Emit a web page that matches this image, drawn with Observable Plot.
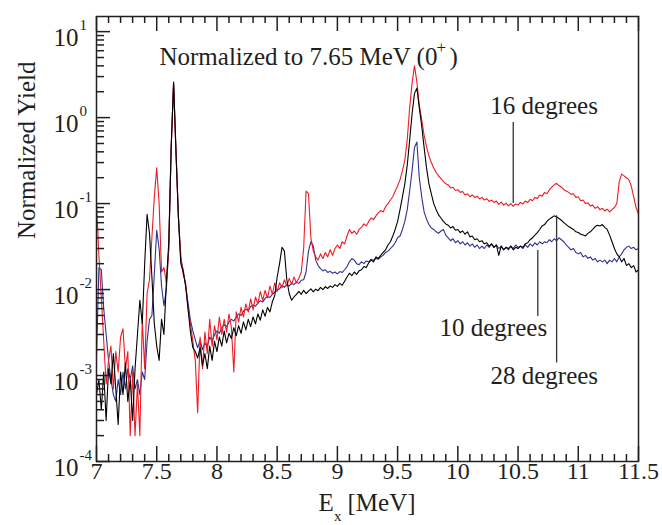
<!DOCTYPE html>
<html><head><meta charset="utf-8">
<script src="https://cdn.jsdelivr.net/npm/d3@7"></script>
<script src="https://cdn.jsdelivr.net/npm/@observablehq/plot@0.6"></script>
<style>
html,body{margin:0;padding:0;background:#fff;}
#chart{width:662px;height:525px;}
</style>
</head><body><div id="chart"></div>
<script>
// Excitation energy grid: 7.00 .. 11.50 MeV in 0.02 MeV bins
const energyStart = 7.0, energyStep = 0.02;

// 16 degrees (red)
const yield16 = [
  0.1, 0.025, 0.008, 0.0025, 0.0008, 0.0015, 0.0022, 0.0007, 0.0019, 0.0011, 0.0028, 0.0035, 0.0012, 0.0019, 0.0002, 0.0011,
  0.0002, 0.0008, 0.0002, 0.0045, 0.0012, 0.009, 0.013, 0.04, 0.12, 0.26, 0.1, 0.016, 0.018, 0.012, 0.03, 0.45, 2.5, 0.4, 0.07, 0.025, 0.015, 0.012, 0.006, 0.004, 0.0025, 0.0015, 0.00037, 0.0028, 0.0012, 0.0032,
  0.0018, 0.0045, 0.0022, 0.0038, 0.0026, 0.0048, 0.003, 0.0045, 0.0032, 0.0052, 0.0036, 0.0011, 0.0055, 0.0042, 0.0062, 0.0048, 0.0068, 0.0055, 0.0078, 0.0058, 0.0082, 0.0068, 0.0095, 0.0075, 0.0098, 0.008, 0.011, 0.0088, 0.012, 0.0095,
  0.012, 0.0105, 0.013, 0.011, 0.0135, 0.0115, 0.014, 0.012, 0.0135, 0.016,
  0.03, 0.14, 0.13, 0.04, 0.028, 0.024, 0.022, 0.026, 0.023, 0.027,
  0.024, 0.029, 0.025, 0.03, 0.033, 0.03, 0.036, 0.034, 0.042, 0.05,
  0.045, 0.048, 0.044, 0.05, 0.053, 0.058, 0.055, 0.062, 0.068, 0.065,
  0.072, 0.078, 0.083, 0.08, 0.092, 0.1, 0.11, 0.12, 0.14, 0.16,
  0.19, 0.24, 0.32, 0.55, 1.3, 2.5, 4.0, 2.6, 1.4, 0.95, 0.62, 0.46, 0.36, 0.3, 0.26, 0.23, 0.21, 0.195, 0.18, 0.17,
  0.165, 0.152, 0.155, 0.142, 0.145, 0.135, 0.138, 0.126, 0.13, 0.12,
  0.126, 0.118, 0.122, 0.113, 0.118, 0.11, 0.114, 0.106, 0.11, 0.103,
  0.107, 0.098, 0.104, 0.096, 0.101, 0.094, 0.1, 0.093, 0.099, 0.096,
  0.103, 0.099, 0.107, 0.103, 0.112, 0.108, 0.118, 0.115, 0.126, 0.122,
  0.135, 0.13, 0.145, 0.155, 0.165, 0.172, 0.162, 0.155, 0.145, 0.14,
  0.135, 0.128, 0.13, 0.118, 0.12, 0.108, 0.11, 0.1, 0.102, 0.094,
  0.096, 0.088, 0.092, 0.085, 0.088, 0.082, 0.086, 0.08, 0.085, 0.09,
  0.1, 0.18, 0.22, 0.21, 0.2, 0.19, 0.16, 0.12, 0.09, 0.075
];

// 28 degrees (black)
const yield28 = [
  0.0006, 0.0009, 0.0004, 0.0011, 0.0003, 0.0012, 0.0008, 0.0018, 0.0007, 0.00027, 0.0011, 0.0006, 0.0014, 0.0005, 0.0009, 0.0003,
  0.0012, 0.003, 0.0075, 0.004, 0.02, 0.075, 0.045, 0.014, 0.004, 0.0022, 0.0015, 0.0045, 0.003, 0.012, 0.035, 0.45, 2.6, 0.4, 0.07, 0.02, 0.016, 0.011, 0.006, 0.0032, 0.0021, 0.0019, 0.0016, 0.0021, 0.0013, 0.0018,
  0.0012, 0.0022, 0.0015, 0.0025, 0.0019, 0.0028, 0.0022, 0.0033, 0.0024, 0.0031, 0.0027, 0.0036, 0.0029, 0.0038, 0.0031, 0.0042, 0.0034, 0.0045, 0.0037, 0.0048, 0.004, 0.0052, 0.0044, 0.0058, 0.0049, 0.0062, 0.0055, 0.0072, 0.0085, 0.014,
  0.02, 0.031, 0.028, 0.013, 0.009, 0.0075, 0.0082, 0.0088, 0.0095, 0.0088,
  0.0098, 0.009, 0.0096, 0.0102, 0.0094, 0.0101, 0.0097, 0.0106, 0.01, 0.0108,
  0.0103, 0.011, 0.0106, 0.0114, 0.0109, 0.0118, 0.0112, 0.0125, 0.014, 0.0155,
  0.0145, 0.016, 0.015, 0.0165, 0.017, 0.0185, 0.018, 0.0205, 0.022, 0.021,
  0.024, 0.023, 0.025, 0.027, 0.029, 0.033, 0.036, 0.042, 0.05, 0.062,
  0.085, 0.12, 0.17, 0.28, 0.55, 1.1, 1.9, 2.2, 1.3, 0.8, 0.45, 0.26, 0.17, 0.13, 0.1, 0.085, 0.074, 0.068, 0.062, 0.058,
  0.056, 0.052, 0.054, 0.049, 0.05, 0.046, 0.048, 0.044, 0.047, 0.041,
  0.042, 0.038, 0.039, 0.036, 0.037, 0.034, 0.035, 0.032, 0.034, 0.031,
  0.033, 0.025, 0.032, 0.029, 0.031, 0.03, 0.032, 0.029, 0.031, 0.03,
  0.032, 0.031, 0.034, 0.035, 0.038, 0.04, 0.043, 0.046, 0.05, 0.055,
  0.057, 0.062, 0.066, 0.069, 0.072, 0.07, 0.067, 0.064, 0.06, 0.057,
  0.054, 0.052, 0.05, 0.047, 0.046, 0.044, 0.043, 0.042, 0.045, 0.047,
  0.05, 0.054, 0.056, 0.055, 0.057, 0.053, 0.05, 0.043, 0.036, 0.03,
  0.026, 0.024, 0.021, 0.023, 0.019, 0.02, 0.018, 0.019, 0.016, 0.017
];

// 10 degrees (blue)
const yield10 = [
  0.0016, 0.018, 0.017, 0.006, 0.003, 0.0015, 0.0009, 0.0006, 0.0005, 0.0009, 0.0006, 0.0011, 0.0007, 0.0012, 0.0009, 0.0013,
  0.0007, 0.0009, 0.0006, 0.0011, 0.0009, 0.0025, 0.0045, 0.005, 0.015, 0.049, 0.03, 0.011, 0.0065, 0.01, 0.03, 0.45, 2.5, 0.4, 0.07, 0.022, 0.017, 0.011, 0.007, 0.0044, 0.0033, 0.0026, 0.0021, 0.0026, 0.002, 0.0024,
  0.0022, 0.0028, 0.0025, 0.003, 0.0033, 0.0031, 0.0036, 0.0039, 0.0037, 0.0042, 0.0045, 0.0043, 0.0048, 0.0052, 0.005, 0.0056, 0.0059, 0.0057, 0.0063, 0.0066, 0.0064, 0.007, 0.0074, 0.0072, 0.0079, 0.0083, 0.0081, 0.0088, 0.0093, 0.0098,
  0.0102, 0.0112, 0.0106, 0.0115, 0.011, 0.0119, 0.0114, 0.0122, 0.0118, 0.0128,
  0.013, 0.016, 0.028, 0.036, 0.032, 0.022, 0.019, 0.0175, 0.0165, 0.017,
  0.0158, 0.0163, 0.0155, 0.016, 0.0152, 0.0162, 0.0158, 0.017, 0.0185, 0.021,
  0.023, 0.022, 0.02, 0.0195, 0.021, 0.02, 0.0215, 0.021, 0.0225, 0.0218,
  0.023, 0.0225, 0.024, 0.025, 0.027, 0.028, 0.03, 0.032, 0.035, 0.04,
  0.042, 0.05, 0.062, 0.085, 0.14, 0.24, 0.45, 0.52, 0.2, 0.12, 0.08, 0.066, 0.057, 0.052, 0.05, 0.047, 0.045, 0.048, 0.05, 0.043,
  0.04, 0.037, 0.039, 0.035, 0.037, 0.034, 0.036, 0.033, 0.035, 0.032,
  0.034, 0.031, 0.033, 0.03, 0.032, 0.03, 0.033, 0.031, 0.034, 0.031,
  0.033, 0.03, 0.032, 0.029, 0.031, 0.029, 0.032, 0.03, 0.033, 0.031,
  0.032, 0.03, 0.033, 0.031, 0.034, 0.032, 0.035, 0.033, 0.036, 0.034,
  0.036, 0.035, 0.038, 0.036, 0.039, 0.037, 0.04, 0.038, 0.036, 0.033,
  0.031, 0.029, 0.03, 0.027, 0.026, 0.027, 0.024, 0.025, 0.023, 0.024,
  0.022, 0.023, 0.021, 0.022, 0.021, 0.022, 0.02, 0.022, 0.021, 0.023,
  0.021, 0.024, 0.026, 0.029, 0.031, 0.032, 0.03, 0.031, 0.029, 0.03
];

// Axis ticks and labels
const xMajor = [7, 7.5, 8, 8.5, 9, 9.5, 10, 10.5, 11, 11.5];
const xTickLabels = ["7", "7.5", "8", "8.5", "9", "9.5", "10", "10.5", "11", "11.5"];
const yMajor = [10, 1, 0.1, 0.01, 0.001, 0.0001];
const yExponents = ["1", "0", "-1", "-2", "-3", "-4"];

// Annotations
const annLabels = ["16 degrees", "10 degrees", "28 degrees"];
const annX = [10.27, 9.848, 10.271];
const annY = [1.38, 0.00361, 0.00099];
const leaderX = [10.46, 10.664, 10.82];
const leaderY1 = [0.1, 0.0284, 0.072];
const leaderY2 = [0.875, 0.00485, 0.0014];
const titleText = "Normalized to 7.65 MeV (0";

[yield16, yield28, yield10].forEach((a, k) => { if (a.length !== 226) throw new Error("series " + k + " length " + a.length); });

const W = 662, H = 525, mL = 96, mR = 24, mT = 16, mB = 64;
const frameW = W - mL - mR, frameH = H - mT - mB;
const ink = "#231f20";
const serif = "'Liberation Serif', 'Times New Roman', serif";
const rows = arr => arr.map((v, i) => ({E: +(energyStart + i * energyStep).toFixed(2), v}));
const xMinor = d3.range(71, 115).filter(i => i % 5 !== 0).map(i => i / 10);
const yMinor = [];
for (const d of [1e-4, 1e-3, 1e-2, 1e-1, 1]) for (let m = 2; m <= 9; m++) yMinor.push(m * d);
const leaders = leaderX.map((x, i) => ({x, y1: leaderY1[i], y2: leaderY2[i]}));
const anns = annLabels.map((t, i) => ({t, x: annX[i], y: annY[i]}));
const T = (data, opts) => Plot.text(data, {fontFamily: serif, fill: ink, ...opts});

const chart = Plot.plot({
  width: W, height: H, marginLeft: mL, marginRight: mR, marginTop: mT, marginBottom: mB,
  style: {fontFamily: serif, background: "#fff", color: ink},
  x: {domain: [7, 11.5], axis: null},
  y: {type: "log", domain: [1e-4, 15], axis: null},
  marks: [
    Plot.line(rows(yield10), {x: "E", y: "v", stroke: "#2e3192", strokeWidth: 1.1}),
    Plot.line(rows(yield16), {x: "E", y: "v", stroke: "#ed1c24", strokeWidth: 1.1}),
    Plot.line(rows(yield28), {x: "E", y: "v", stroke: "#000", strokeWidth: 1.1}),
    Plot.ruleX(leaders, {x: "x", y1: "y1", y2: "y2", stroke: "#333", strokeWidth: 1.3}),
    Plot.frame({stroke: ink, strokeWidth: 1.5}),
    Plot.tickX(xMajor, {x: d => d, insetTop: frameH - 15, stroke: ink, strokeWidth: 1.5}),
    Plot.tickX(xMinor, {x: d => d, insetTop: frameH - 7, stroke: ink, strokeWidth: 1.5}),
    Plot.tickX(xMajor, {x: d => d, insetBottom: frameH - 15, stroke: ink, strokeWidth: 1.5}),
    Plot.tickX(xMinor, {x: d => d, insetBottom: frameH - 7, stroke: ink, strokeWidth: 1.5}),
    Plot.tickY(yMajor, {y: d => d, insetRight: frameW - 14, stroke: ink, strokeWidth: 1.5}),
    Plot.tickY(yMinor, {y: d => d, insetRight: frameW - 8, stroke: ink, strokeWidth: 1.5}),
    T(xMajor, {x: d => d, frameAnchor: "bottom", text: (d, i) => xTickLabels[i], dy: 17, fontSize: 24}),
    T(yMajor, {y: d => d, frameAnchor: "left", text: () => "10", textAnchor: "end", dx: -18, dy: 6, fontSize: 25}),
    T(yMajor, {y: d => d, frameAnchor: "left", text: (d, i) => yExponents[i], textAnchor: "start", dx: -17, dy: -6, fontSize: 15}),
    T(["Normalized Yield"], {frameAnchor: "left", rotate: -90, dx: -70, fontSize: 25}),
    T(["E"], {frameAnchor: "bottom", textAnchor: "start", dx: -49, dy: 49, fontSize: 25}),
    T(["x"], {frameAnchor: "bottom", textAnchor: "start", dx: -33.5, dy: 59, fontSize: 15}),
    T(["[MeV]"], {frameAnchor: "bottom", textAnchor: "start", dx: -20, dy: 49, fontSize: 25}),
    T([titleText], {x: () => 7.523, y: () => 5.12, textAnchor: "start", fontSize: 25}),
    T(["+"], {x: () => 9.823, y: () => 6.5, textAnchor: "start", fontSize: 17}),
    T([")"], {x: () => 9.93, y: () => 5.12, textAnchor: "start", fontSize: 25}),
    T(anns, {x: "x", y: "y", text: "t", textAnchor: "start", fontSize: 25})
  ]
});
document.getElementById("chart").append(chart);
</script>
</body></html>
